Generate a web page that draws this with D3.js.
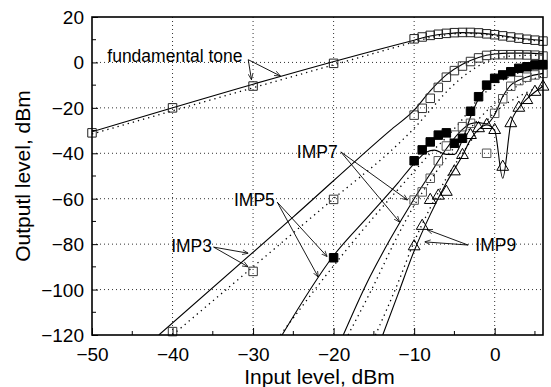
<!DOCTYPE html>
<html>
<head>
<meta charset="utf-8">
<script src="https://cdn.jsdelivr.net/npm/d3@7"></script>
<style>
  body { margin: 0; background: #fff; }
  text { font-family: "Liberation Sans", Arial, sans-serif; fill: #000; }
</style>
</head>
<body>
<div id="chart"></div>
<script>
// axis ticks
var xTicks = [-50, -40, -30, -20, -10, 0];
var xMinor = [-45, -35, -25, -15, -5, 5];
var yTicks = [20, 0, -20, -40, -60, -80, -100, -120];
var yMinor = [10, -10, -30, -50, -70, -90, -110];

// fundamental tone
var fundX = [-50, -40, -30, -20, -10, -9, -8, -7, -6, -5, -4, -3, -2, -1, 0, 1, 2, 3, 4, 5, 6];
var fundY = [-31, -20, -10.4, -0.4, 10.4, 11.2, 11.9, 12.4, 12.8, 13.1, 13.2, 13.2, 13, 12.6, 12.2, 11.7, 11.2, 10.7, 10.2, 9.8, 9.4];
var fundSolid = [[-50, -30.5], [-10, 9.8], [-8, 11.6], [-6, 12.6], [-4, 13.1], [-2, 12.9], [0, 12.2], [2, 11.2], [4, 10.3], [6, 9.6]];
var fundDotted = [[-50, -31.5], [-10, 9], [-8, 11], [-6, 12.2], [-4, 12.8], [-2, 12.6], [0, 11.8], [2, 10.8], [4, 10], [6, 9.2]];

// IMP3 (open squares)
var imp3X = [-40, -30, -20, -10, -9, -8, -7, -6, -5, -4, -3, -2, -1, 0, 1, 2, 3, 4, 5, 6];
var imp3Y = [-118.5, -92, -60.3, -23.2, -20.2, -15.8, -11, -6.5, -3.6, -1.6, 0.4, 2, 3.1, 3.4, 3.4, 3.4, 3.4, 3.3, 3.2, 2.8];
var imp3Solid = [[-41.7, -120], [-25, -68], [-13, -30], [-10, -21], [-8, -12.5], [-6, -5.5], [-4, -0.8], [-2, 2.2], [0, 3.7], [2, 4.1], [4, 4.1], [6, 3.8]];
var imp3Dotted = [[-40, -120], [-20, -60], [-12, -36], [-10, -29], [-8, -21], [-6, -13], [-4, -6.5], [-2, -1.5], [0, 1.5], [3, 3], [6, 3.2]];

// IMP5 (filled squares)
var imp5X = [-20, -10, -9, -8, -7, -6, -5, -4, -3, -2, -1, 0, 1, 2, 3, 4, 5, 6];
var imp5Y = [-86, -43.3, -38.5, -35, -32, -31, -35.6, -33.4, -21.5, -15.1, -10, -7, -5.5, -4.1, -2.6, -1.9, -1.1, -1];
var imp5Solid = [[-26.4, -120], [-20, -85], [-15.5, -67], [-12, -53], [-10, -44.5], [-8.5, -39.5], [-7.5, -38.6], [-6, -40.5], [-5, -40.5], [-4, -34], [-3, -24], [-2, -16], [-1, -10.5], [0, -7.5], [2, -4.3], [4, -2.3], [6, -1.2]];
var imp5Dotted = [[-26.6, -120], [-21, -94], [-15, -68], [-10, -48], [-8, -40], [-6, -33], [-4, -25], [-2, -16], [0, -10], [3, -4.5], [6, -2]];

// IMP7 (open squares)
var imp7X = [-10, -9, -8, -7, -6, -5, -4, -3, -1, 0, 1, 2, 3, 4, 5, 6];
var imp7Y = [-60.6, -57, -51, -43.3, -36.8, -32, -28.3, -26.8, -40, -22.4, -16, -10.5, -8, -6.5, -5.5, -4.8];
var imp7Solid = [[-18.8, -120], [-15.9, -97.3], [-13, -78], [-10, -60], [-8, -49], [-6, -38], [-4, -29.5], [-3, -27], [-2, -26.5], [-1, -27], [0, -23], [1, -15], [2, -10], [3, -7.8], [4, -6.4], [6, -4.8]];
var imp7Dotted = [[-18.2, -120], [-15, -98], [-12, -76], [-10, -63], [-8, -52], [-6, -42], [-4, -33], [-2, -25], [0, -18], [3, -10], [6, -6]];

// IMP9 (open triangles)
var imp9X = [-10, -9, -8, -7, -6, -5, -4, -3, -2, -1, 0, 1, 2, 3, 4, 5, 6];
var imp9Y = [-81, -72, -60.6, -58.7, -57, -48, -40.8, -32, -29, -27.6, -29.8, -46, -26.8, -20, -16.6, -13, -10.7];
var imp9Solid = [[-13.9, -120], [-12, -102], [-10, -83], [-8, -67], [-6, -53], [-4, -41], [-3, -34], [-2, -29.5], [-1, -27.5], [0, -30], [1, -51], [2, -27], [3, -20], [4, -16], [5, -13], [6, -10.5]];
var imp9Dotted = [[-14.8, -120], [-12, -97], [-10, -79], [-8, -64], [-6, -51], [-4, -40], [-2, -30], [0, -22], [3, -15], [6, -10]];

// labels with arrows (text anchor point, arrow start, arrow tips) in data units
var labels = [
  {text: "fundamental tone", anchor: "start", at: [-48.1, 0.4], from: [-30.6, 1.2], tips: [[-30.2, -7.6], [-26.6, -6]]},
  {text: "IMP7", anchor: "end", at: [-19.5, -42], from: [-19.1, -39.4], tips: [[-10.8, -60.6], [-11.8, -70.3]]},
  {text: "IMP5", anchor: "end", at: [-27.3, -63], from: [-27, -61.5], tips: [[-20.8, -85.5], [-21.9, -94.5]]},
  {text: "IMP3", anchor: "end", at: [-35.1, -83.6], from: [-34.9, -81.3], tips: [[-30.6, -84], [-30.6, -90]]},
  {text: "IMP9", anchor: "start", at: [-2.4, -82.8], from: [-3.3, -80.4], tips: [[-8.4, -73.6], [-8.7, -79]]}
];

var W = 551, H = 387;
var margin = {top: 17, right: 8, bottom: 52, left: 92};

var svg = d3.select("#chart").append("svg")
    .attr("width", W)
    .attr("height", H);

var x = d3.scaleLinear().domain([-50, 6]).range([margin.left, W - margin.right]);
var y = d3.scaleLinear().domain([-120, 20]).range([H - margin.bottom, margin.top]);

// dotted grid
svg.append("g").selectAll("line")
  .data(xTicks.filter(function(d) { return d > -50; }))
  .enter().append("line")
    .attr("x1", function(d) { return x(d); }).attr("x2", function(d) { return x(d); })
    .attr("y1", y(20)).attr("y2", y(-120))
    .attr("stroke", "#333").attr("stroke-width", 1).attr("stroke-dasharray", "1,3");
svg.append("g").selectAll("line")
  .data(yTicks.filter(function(d) { return d < 20 && d > -120; }))
  .enter().append("line")
    .attr("y1", function(d) { return y(d); }).attr("y2", function(d) { return y(d); })
    .attr("x1", x(-50)).attr("x2", x(6))
    .attr("stroke", "#333").attr("stroke-width", 1).attr("stroke-dasharray", "1,3");

// axes, ticks pointing inward
var xAxis = svg.append("g")
    .attr("transform", "translate(0," + y(-120) + ")")
    .call(d3.axisBottom(x).tickValues(xTicks).tickSize(-7).tickPadding(13).tickFormat(d3.format("d")));
var yAxis = svg.append("g")
    .attr("transform", "translate(" + x(-50) + ",0)")
    .call(d3.axisLeft(y).tickValues(yTicks).tickSize(-6).tickPadding(8).tickFormat(d3.format("d")));
[xAxis, yAxis].forEach(function(a) {
  a.select(".domain").remove();
  a.selectAll("text").style("font-size", "19px").attr("fill", "#000");
  a.selectAll("line").attr("stroke", "#000");
});
xAxis.selectAll("text").attr("dy", "0.68em");
yAxis.selectAll("text").attr("dy", "0.34em");

svg.append("g").selectAll("line")
  .data(xMinor).enter().append("line")
    .attr("x1", function(d) { return x(d); }).attr("x2", function(d) { return x(d); })
    .attr("y1", y(-120)).attr("y2", y(-120) - 4).attr("stroke", "#000");
svg.append("g").selectAll("line")
  .data(yMinor).enter().append("line")
    .attr("y1", function(d) { return y(d); }).attr("y2", function(d) { return y(d); })
    .attr("x1", x(-50)).attr("x2", x(-50) + 4).attr("stroke", "#000");

// curves
var line = d3.line()
    .x(function(d) { return x(d[0]); })
    .y(function(d) { return y(d[1]); })
    .curve(d3.curveMonotoneX);

var clip = svg.append("clipPath").attr("id", "plotclip")
  .append("rect")
    .attr("x", x(-50)).attr("y", y(20))
    .attr("width", x(6) - x(-50)).attr("height", y(-120) - y(20));

var curves = svg.append("g").attr("clip-path", "url(#plotclip)");
[fundSolid, imp3Solid, imp5Solid, imp7Solid, imp9Solid].forEach(function(s) {
  curves.append("path").datum(s)
    .attr("d", line).attr("fill", "none").attr("stroke", "#000").attr("stroke-width", 1.1);
});
[fundDotted, imp3Dotted, imp5Dotted, imp7Dotted, imp9Dotted].forEach(function(s) {
  curves.append("path").datum(s)
    .attr("d", line).attr("fill", "none").attr("stroke", "#000")
    .attr("stroke-width", 1.3).attr("stroke-dasharray", "1.3,4");
});

// markers
function pairs(xs, ys) { return xs.map(function(v, i) { return [v, ys[i]]; }); }
var sq = d3.symbol().type(d3.symbolSquare).size(72);
var tri = d3.symbol().type(d3.symbolTriangle).size(60);

var marks = svg.append("g");
function drawMarks(data, sym, fill, stroke) {
  marks.append("g").selectAll("path")
    .data(data).enter().append("path")
      .attr("d", sym)
      .attr("transform", function(d) { return "translate(" + x(d[0]) + "," + y(d[1]) + ")"; })
      .attr("fill", fill).attr("stroke", stroke).attr("stroke-width", 1);
}
drawMarks(pairs(fundX, fundY), sq, "none", "#222");
drawMarks(pairs(imp3X, imp3Y), sq, "none", "#333");
drawMarks(pairs(imp7X, imp7Y), sq, "none", "#555");
drawMarks(pairs(imp5X, imp5Y), sq, "#000", "#000");
drawMarks(pairs(imp9X, imp9Y), tri, "none", "#000");

// frame
svg.append("rect")
    .attr("x", x(-50)).attr("y", y(20))
    .attr("width", x(6) - x(-50)).attr("height", y(-120) - y(20))
    .attr("fill", "none").attr("stroke", "#000").attr("stroke-width", 1.6);

// arrow head
svg.append("defs").append("marker")
    .attr("id", "arr").attr("viewBox", "0 0 10 10")
    .attr("refX", 10).attr("refY", 5)
    .attr("markerWidth", 6).attr("markerHeight", 6)
    .attr("markerUnits", "userSpaceOnUse")
    .attr("orient", "auto")
  .append("path").attr("d", "M0,1 L10,5 L0,9").attr("fill", "none").attr("stroke", "#000").attr("stroke-width", 1.2);

// annotations
var ann = svg.append("g");
labels.forEach(function(l) {
  ann.append("text")
    .attr("x", x(l.at[0])).attr("y", y(l.at[1]))
    .attr("text-anchor", l.anchor)
    .style("font-size", "17.5px")
    .text(l.text);
  l.tips.forEach(function(t) {
    ann.append("line")
      .attr("x1", x(l.from[0])).attr("y1", y(l.from[1]))
      .attr("x2", x(t[0])).attr("y2", y(t[1]))
      .attr("stroke", "#000").attr("stroke-width", 0.9)
      .attr("marker-end", "url(#arr)");
  });
});

// axis titles
svg.append("text")
    .attr("x", (x(-50) + x(6)) / 2 + 2).attr("y", 384)
    .attr("text-anchor", "middle")
    .style("font-size", "21px")
    .text("Input level, dBm");
svg.append("text")
    .attr("transform", "translate(30," + ((y(20) + y(-120)) / 2) + ") rotate(-90)")
    .attr("text-anchor", "middle")
    .style("font-size", "21px")
    .text("Outputl level, dBm");
</script>
</body>
</html>
